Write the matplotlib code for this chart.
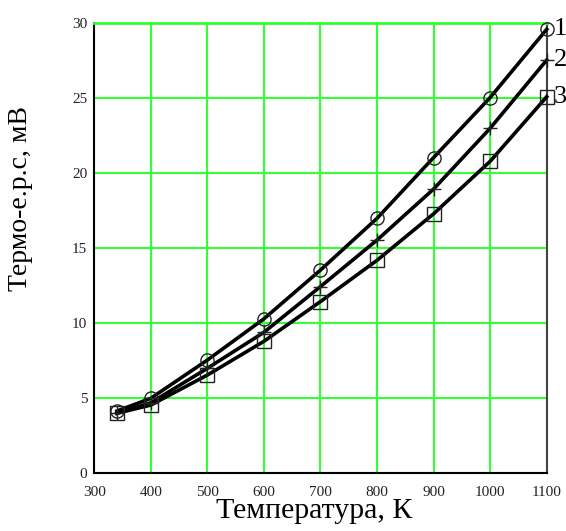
import matplotlib
matplotlib.use("Agg")
import matplotlib.pyplot as plt

temperature = [340, 400, 500, 600, 700, 800, 900, 1000, 1100]
emf_1 = [4.15, 5.0, 7.55, 10.3, 13.55, 17.0, 21.05, 25.05, 29.6]
emf_2 = [4.0, 4.7, 7.0, 9.4, 12.45, 15.55, 18.95, 23.0, 27.55]
emf_3 = [4.0, 4.55, 6.55, 8.8, 11.45, 14.2, 17.3, 20.8, 25.1]
curve_labels = ["1", "2", "3"]
x_ticks = [300, 400, 500, 600, 700, 800, 900, 1000, 1100]
y_ticks = [0, 5, 10, 15, 20, 25, 30]

plt.rcParams['font.family'] = ['Liberation Serif', 'DejaVu Serif']

fig = plt.figure(figsize=(5.66, 5.31), dpi=100)
ax = fig.add_axes([0.1666, 0.1087, 0.7993, 0.8474])

grid_color = '#33ff33'
ax.set_xlim(300, 1100)
ax.set_ylim(0, 30)
ax.set_xticks(x_ticks)
ax.set_yticks(y_ticks)
ax.grid(True, color=grid_color, linewidth=1.5)
ax.set_axisbelow(True)
ax.tick_params(axis='x', length=0, labelsize=11, pad=9, labelcolor='#222222')
ax.tick_params(axis='y', length=0, labelsize=11, pad=5, labelcolor='#222222')

for ys, mk in zip([emf_1, emf_2, emf_3], ['o', '+', 's']):
    ax.plot(temperature, ys, color='black', linewidth=2.6, zorder=3, clip_on=False)
    ax.plot(temperature, ys, linestyle='none', marker=mk, markersize=9.5,
            markerfacecolor='none', markeredgecolor='#222222',
            markeredgewidth=1.0, zorder=4, clip_on=False)

for lbl, ys in zip(curve_labels, [emf_1, emf_2, emf_3]):
    ax.annotate(lbl, xy=(temperature[-1], ys[-1]), xytext=(5, 0),
                textcoords='offset points', ha='left', va='center',
                fontsize=19, annotation_clip=False)

for side in ['left', 'bottom']:
    ax.spines[side].set_color('black')
    ax.spines[side].set_linewidth(1.5)
ax.spines['right'].set_color('#444444')
ax.spines['right'].set_linewidth(1.5)
ax.spines['top'].set_color(grid_color)
ax.spines['top'].set_linewidth(2)

ax.set_xlabel('Температура, К', fontsize=21.5)
ax.xaxis.set_label_coords(0.485, -0.055)
ax.set_ylabel('Термо-е.р.с, мВ', fontsize=20)
ax.yaxis.set_label_coords(-0.135, 0.61)

fig.savefig('out.png', dpi=100)
